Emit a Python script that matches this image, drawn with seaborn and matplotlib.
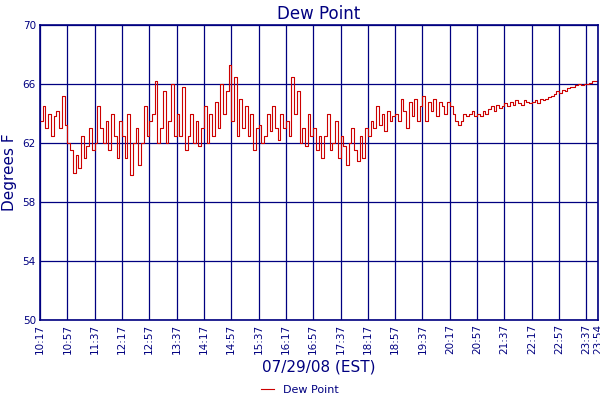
import numpy as np
import pandas as pd
import seaborn as sns
import matplotlib.pyplot as plt

# Dew point readings every 4 minutes from 10:17
dew_point = [
    63.5, 64.5, 63, 64, 62.5, 63.8, 64.2, 63, 65.2, 63.2,
    62, 61.5, 60, 61.2, 60.3, 62.5, 61, 61.8, 63, 61.5,
    62, 64.5, 63, 62, 63.5, 61.5, 64, 62.5, 61, 63.5,
    62.5, 61, 64, 59.8, 62, 63, 60.5, 62, 64.5, 62.5,
    63.5, 64, 66.2, 62, 63, 65.5, 62, 63.5, 66, 62.5,
    64, 62.5, 65.8, 61.5, 62.5, 64, 62, 63.5, 61.8, 63,
    64.5, 62, 64, 62.5, 64.8, 63, 66, 64, 65.5, 67.3,
    63.5, 66.5, 62.5, 65, 63, 64.5, 62.5, 64, 61.5, 63,
    63.2, 62, 62.5, 64, 62.8, 64.5, 63, 62.2, 64, 63,
    63.5, 62.5, 66.5, 64, 65.5, 62, 63, 61.8, 64, 62.5,
    63, 61.5, 62.5, 61, 62.5, 64, 61.5, 62, 63.5, 61,
    62.5, 61.8, 60.5, 62, 63, 61.5, 60.8, 62.5, 61, 63,
    62.5, 63.5, 63, 64.5, 63.2, 64, 62.8, 64.2, 63.5, 63.8,
    64, 63.5, 65, 64.2, 63, 64.8, 63.8, 65, 63.5, 64.5,
    65.2, 63.5, 64.8, 64.2, 65, 63.8, 64.8, 64.5, 64, 64.8,
    64.5, 64, 63.5, 63.2, 63.5, 64, 63.8, 64, 64.2, 63.8,
    64, 63.8, 64.2, 64, 64.3, 64.5, 64.2, 64.6, 64.4, 64.5,
    64.7, 64.5, 64.8, 64.6, 64.9, 64.7, 64.6, 64.9, 64.8, 64.7,
    64.8, 64.9, 64.7, 65, 64.9, 65, 65.1, 65.2, 65.3, 65.5,
    65.4, 65.6, 65.5, 65.7, 65.8, 65.8, 65.9, 66, 65.9, 66,
    66, 66.1, 66.2, 66.2, 66.2,
]
tick_labels = ["10:17", "10:57", "11:37", "12:17", "12:57", "13:37", "14:17",
               "14:57", "15:37", "16:17", "16:57", "17:37", "18:17", "18:57",
               "19:37", "20:17", "20:57", "21:37", "22:17", "22:57", "23:37", "23:54"]
y_ticks = [50, 54, 58, 62, 66, 70]

minutes = np.arange(len(dew_point)) * 4
df = pd.DataFrame({"minute": minutes, "dew": dew_point})
tick_pos = [int(t[:2]) * 60 + int(t[3:]) - (10 * 60 + 17) for t in tick_labels]

navy = "#000080"
fig = plt.figure(figsize=(6, 4), dpi=100)
ax = fig.add_axes([0.0667, 0.2, 0.93, 0.7375])
sns.lineplot(data=df, x="minute", y="dew", ax=ax, color="#cc0000",
             linewidth=0.8, drawstyle="steps-post", label="Dew Point")

ax.set_xlim(0, tick_pos[-1])
ax.set_ylim(50, 70)
ax.set_xticks(tick_pos)
ax.set_xticklabels(tick_labels, rotation=90, fontsize=7.5, color=navy)
ax.set_yticks(y_ticks)
ax.set_yticklabels(y_ticks, fontsize=7.5, color=navy)
ax.tick_params(length=0, pad=3)
ax.grid(True, color=navy, linewidth=0.9)
for s in ax.spines.values():
    s.set_color(navy)
    s.set_linewidth(1.2)

ax.set_title("Dew Point", color=navy, fontsize=12, pad=4)
ax.set_ylabel("Degrees F", color=navy, fontsize=11)
ax.set_xlabel("07/29/08 (EST)", color=navy, fontsize=11, labelpad=4)
ax.get_legend().remove()
handles, labels = ax.get_legend_handles_labels()
fig.legend(handles, labels, loc="center", bbox_to_anchor=(0.5, 0.025),
           frameon=False, fontsize=8, handlelength=1.2, labelcolor=navy,
           borderpad=0.1)

fig.savefig("out.png", dpi=100)
